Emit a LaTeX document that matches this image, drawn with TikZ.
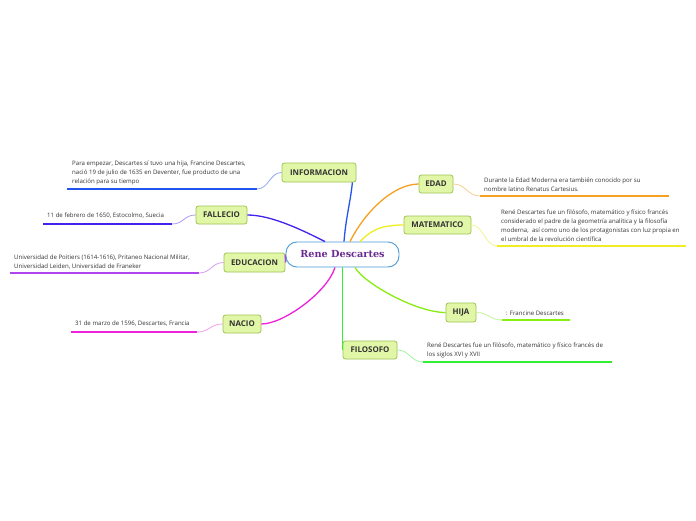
\documentclass[tikz,border=0pt]{standalone}
\usepackage{fontspec}
\setmainfont{Open Sans}
\newfontfamily\titlefont{DejaVu Serif}
\usetikzlibrary{calc}
\definecolor{brborder}{HTML}{9CC452}
\definecolor{brfill}{HTML}{E2F6A8}
\definecolor{brtext}{HTML}{333333}
\definecolor{leaftxt}{HTML}{333333}
\definecolor{cborder}{HTML}{4A9AD8}
\definecolor{ctext}{HTML}{6A2C91}
\definecolor{cinfo}{HTML}{2255EE}
\definecolor{linfo}{HTML}{8FAAF5}
\definecolor{cfall}{HTML}{4422EE}
\definecolor{lfall}{HTML}{B09AF2}
\definecolor{cedu}{HTML}{B044EE}
\definecolor{ledu}{HTML}{D8A0F5}
\definecolor{cnac}{HTML}{EE22DD}
\definecolor{lnac}{HTML}{F5A0EC}
\definecolor{cedad}{HTML}{F5A020}
\definecolor{ledad}{HTML}{F8CF90}
\definecolor{cmat}{HTML}{EEEE22}
\definecolor{lmat}{HTML}{F3F390}
\definecolor{chija}{HTML}{88EE11}
\definecolor{lhija}{HTML}{C4F59A}
\definecolor{cfilo}{HTML}{33EE33}
\definecolor{lfilo}{HTML}{A4F5A4}
\begin{document}
\begin{tikzpicture}[x=1pt,y=-1pt,
  branch/.style={draw=brborder, fill=brfill, rounded corners=2.5pt, line width=0.8pt,
    font=\fontsize{7.9}{9}\selectfont\bfseries, text=brtext, inner sep=0pt},
  leaf/.style={anchor=west, align=left, inner sep=0pt,
    font=\fontsize{6.1}{9}\selectfont, text=leaftxt},
  mainline/.style={line width=1.3pt},
  thinline/.style={line width=0.8pt},
  uline/.style={line width=1.6pt}]
\path[use as bounding box, fill=white] (0,0) rectangle (696,520);

% central node
\node[draw=cborder, line width=0.9pt, rounded corners=11pt, fill=white,
  minimum width=113pt, minimum height=25pt, inner sep=0pt,
  font=\titlefont\fontsize{9.7}{11}\selectfont\bfseries, text=ctext] (c) at (342.5,254.5) {Rene Descartes};

% branch nodes
\node[branch, minimum width=74pt, minimum height=19pt] (info) at (319,172.5) {INFORMACION};
\node[branch, minimum width=51pt, minimum height=18pt] (fall) at (221.5,215) {FALLECIO};
\node[branch, minimum width=61pt, minimum height=19pt] (edu) at (254.5,262.5) {EDUCACION};
\node[branch, minimum width=38pt, minimum height=18pt] (nac) at (242,324) {NACIO};
\node[branch, minimum width=34pt, minimum height=18pt] (edad) at (436,184) {EDAD};
\node[branch, minimum width=67pt, minimum height=18pt] (mat) at (437.5,225) {MATEMATICO};
\node[branch, minimum width=30pt, minimum height=19pt] (hija) at (461,312.5) {HIJA};
\node[branch, minimum width=54pt, minimum height=18pt] (filo) at (370,350) {FILOSOFO};

% leaf texts
\node[leaf] (tinfo) at (72,172.5) {Para empezar, Descartes sí tuvo una hija, Francine Descartes,\\nació 19 de julio de 1635 en Deventer, fue producto de una\\relación para su tiempo};
\node[leaf] (tfall) at (47,216) {11 de febrero de 1650, Estocolmo, Suecia};
\node[leaf] (tedu) at (14,262) {Universidad de Poitiers (1614-1616), Pritaneo Nacional Militar,\\Universidad Leiden, Universidad de Franeker};
\node[leaf] (tnac) at (75,324) {31 de marzo de 1596, Descartes, Francia};
\node[leaf] (tedad) at (484,184.5) {Durante la Edad Moderna era también conocido por su\\nombre latino Renatus Cartesius.};
\node[leaf] (tmat) at (501,225.5) {René Descartes fue un filósofo, matemático y físico francés\\considerado el padre de la geometría analítica y la filosofía\\moderna,\ \ así como uno de los protagonistas con luz propia en\\el umbral de la revolución científica};
\node[leaf] (thija) at (506,313) {: Francine Descartes};
\node[leaf] (tfilo) at (427,350) {René Descartes fue un filósofo, matemático y físico francés de\\los siglos XVI y XVII};

% underline end points
\coordinate (uinfoL) at (67,189);   \coordinate (uinfoR) at (257,189);
\coordinate (ufallL) at (43,224);   \coordinate (ufallR) at (172,224);
\coordinate (ueduL) at (10,273);    \coordinate (ueduR) at (199,273);
\coordinate (unacL) at (71,332);    \coordinate (unacR) at (197,332);
\coordinate (uedadL) at (480,196);  \coordinate (uedadR) at (669,196);
\coordinate (umatL) at (497,246);   \coordinate (umatR) at (686,246);
\coordinate (uhijaL) at (502,320);  \coordinate (uhijaR) at (570,320);
\coordinate (ufiloL) at (423,362);  \coordinate (ufiloR) at (612,362);

% underlines
\draw[uline, cinfo] (uinfoL) -- (uinfoR);
\draw[uline, cfall] (ufallL) -- (ufallR);
\draw[uline, cedu] (ueduL) -- (ueduR);
\draw[uline, cnac] (unacL) -- (unacR);
\draw[uline, cedad] (uedadL) -- (uedadR);
\draw[uline, cmat] (umatL) -- (umatR);
\draw[uline, chija] (uhijaL) -- (uhijaR);
\draw[uline, cfilo] (ufiloL) -- (ufiloR);

% leaf connectors
\draw[thinline, linfo] (uinfoR) .. controls +(12,0) and +(-12,0) .. (info.west);
\draw[thinline, lfall] (ufallR) .. controls +(12,0) and +(-12,0) .. (fall.west);
\draw[thinline, ledu] (ueduR) .. controls +(12,0) and +(-12,0) .. (edu.west);
\draw[thinline, lnac] (unacR) .. controls +(12,0) and +(-12,0) .. (nac.west);
\draw[thinline, ledad] (edad.east) .. controls +(12,0) and +(-12,0) .. (uedadL);
\draw[thinline, lmat] (mat.east) .. controls +(12,0) and +(-12,0) .. (umatL);
\draw[thinline, lhija] (hija.east) .. controls +(12,0) and +(-12,0) .. (uhijaL);
\draw[thinline, lfilo] (filo.east) .. controls +(12,0) and +(-12,0) .. (ufiloL);

% main branches
\draw[mainline, cinfo] ($(c.north)+(1.5,0)$) .. controls +(2,-25) and +(-2,20) .. ($(info.south east)+(-4,0)$);
\draw[mainline, cfall] ($(c.north)+(-17.5,0)$) .. controls +(-20,-10) and +(25,0) .. (fall.east);
\draw[mainline, cedu] (c.west) .. controls +(-1,0) and +(1,0) .. (edu.east);
\draw[mainline, cnac] ($(c.south)+(-7.5,0)$) .. controls +(-8,25) and +(22,0) .. (nac.east);
\draw[mainline, cedad] ($(c.north)+(7.5,0)$) .. controls +(15,-30) and +(-25,0) .. (edad.west);
\draw[mainline, cmat] ($(c.north)+(17.5,0)$) .. controls +(10,-10) and +(-25,0) .. (mat.west);
\draw[mainline, chija] ($(c.south)+(12.5,0)$) .. controls +(8,15) and +(-30,0) .. (hija.west);
\draw[mainline, cfilo] (c.south) -- (c.south |- filo.west);
\end{tikzpicture}
\end{document}
